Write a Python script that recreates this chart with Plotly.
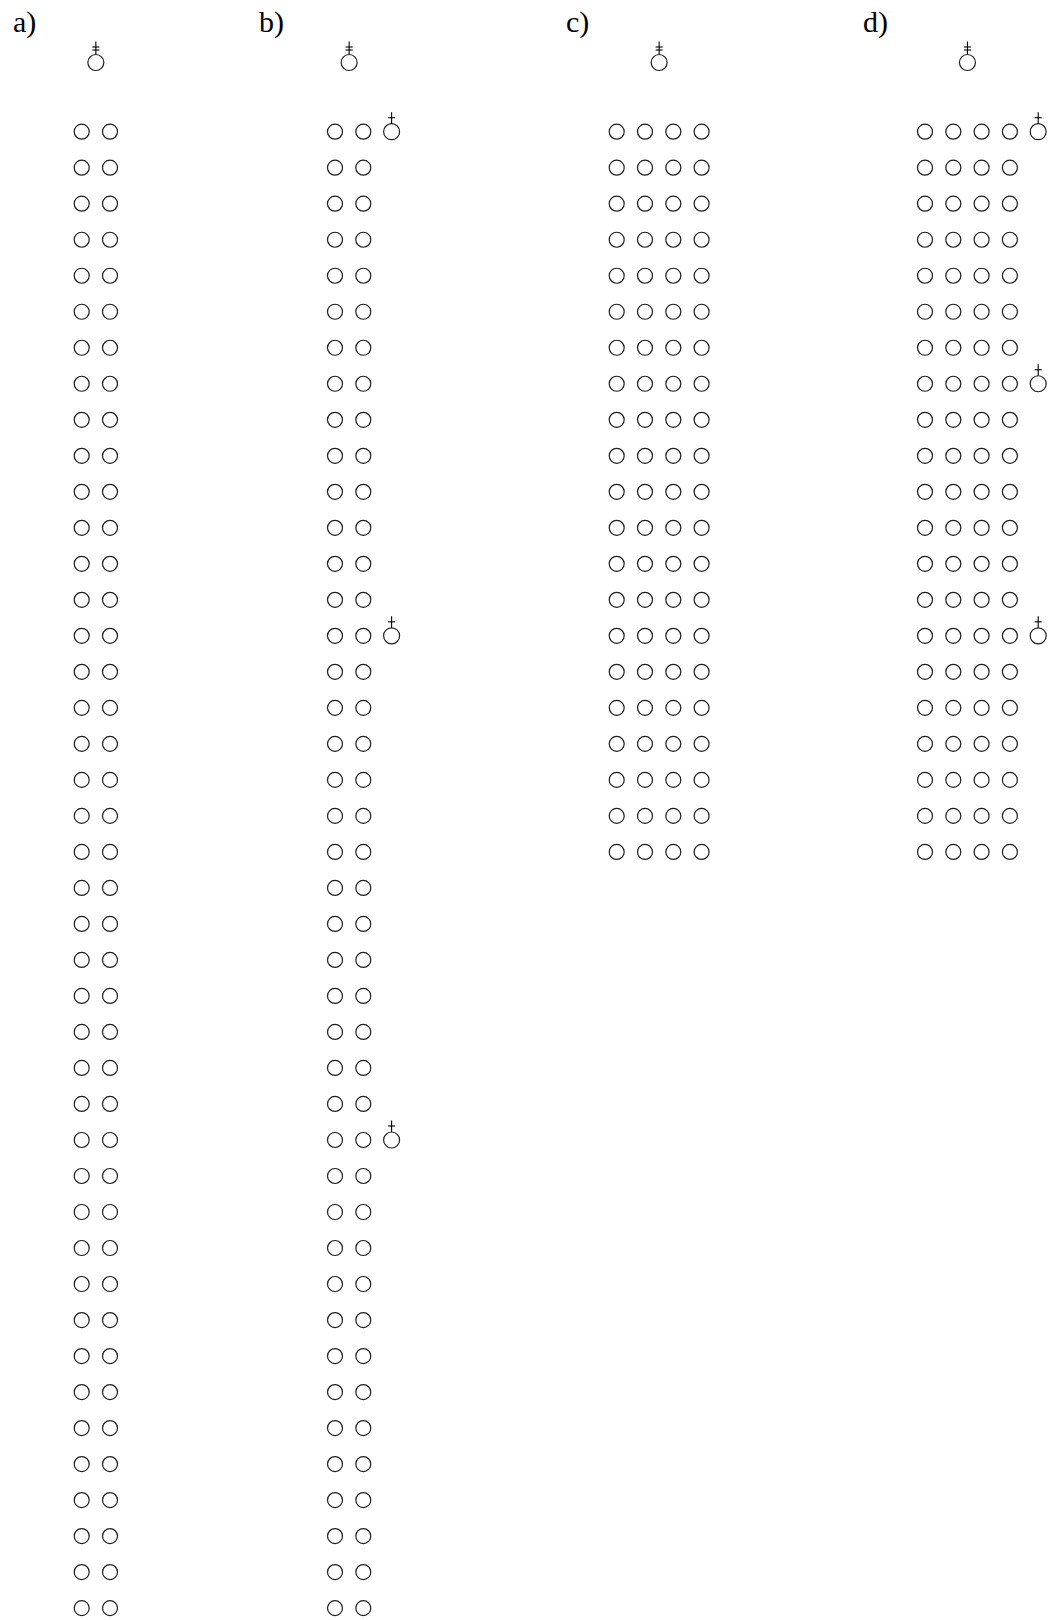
import plotly.graph_objects as go

# ---- data ----
panel_labels = ["a)", "b)", "c)", "d)"]
n_rows = [42, 42, 21, 21]
n_cols = [2, 2, 4, 4]
extra_rows = [[], [0, 14, 28], [], [0, 7, 14]]

# ---- layout constants (pixels) ----
W, H = 1051, 1620
first_col_x = [81.7, 335.0, 616.7, 925.0]
col_step = 28.3
label_x = [11.0, 256.5, 564.0, 861.0]
row0_px = 131.7
row_step = 36.01
top_px = 62.5
ink = "#1e1e1e"

def px2row(p):
    return (p - row0_px) / row_step

fig = go.Figure()

cx, cy = [], []
sx, sy = [], []           # symbol circles
lx, ly = [], []           # cross lines
for p in range(4):
    x0 = first_col_x[p]
    for r in range(n_rows[p]):
        for c in range(n_cols[p]):
            cx.append(x0 + c * col_step)
            cy.append(r)
    # top symbol (double cross)
    xm = x0 + (n_cols[p] - 1) * col_step / 2
    ty = px2row(top_px)
    sx.append(xm); sy.append(ty)
    lx += [xm, xm, None]; ly += [ty - 8.3 / row_step, ty - 21 / row_step, None]
    for off in (15.5, 12.5):
        lx += [xm - 3.5, xm + 3.5, None]; ly += [ty - off / row_step, ty - off / row_step, None]
    # extra symbols (single cross)
    xe = x0 + n_cols[p] * col_step
    for r in extra_rows[p]:
        sx.append(xe); sy.append(r)
        lx += [xe, xe, None]; ly += [r - 8.0 / row_step, r - 19.5 / row_step, None]
        lx += [xe - 3.5, xe + 3.5, None]; ly += [r - 14 / row_step, r - 14 / row_step, None]

fig.add_trace(go.Scatter(x=cx, y=cy, mode="markers", hoverinfo="skip",
                         marker=dict(symbol="circle-open", size=15, color=ink,
                                     line=dict(width=1.2, color=ink))))
fig.add_trace(go.Scatter(x=sx, y=sy, mode="markers", hoverinfo="skip",
                         marker=dict(symbol="circle-open", size=16, color=ink,
                                     line=dict(width=1.2, color=ink))))
fig.add_trace(go.Scatter(x=lx, y=ly, mode="lines", hoverinfo="skip",
                         line=dict(color="black", width=1.1)))

for p in range(4):
    fig.add_annotation(x=label_x[p], y=px2row(21.5), text=panel_labels[p], showarrow=False,
                       xanchor="left", yanchor="middle",
                       font=dict(family="Liberation Serif, Times New Roman, serif", size=30, color="black"))

fig.update_layout(width=W, height=H, margin=dict(l=0, r=0, t=0, b=0),
                  paper_bgcolor="white", plot_bgcolor="white", showlegend=False)
fig.update_xaxes(range=[0, W], visible=False, fixedrange=True)
fig.update_yaxes(range=[px2row(H), px2row(0)], visible=False, fixedrange=True)

fig.write_html("out.html", config={"displayModeBar": False},
               post_script="document.body.style.margin='0';document.body.style.overflow='hidden';")
